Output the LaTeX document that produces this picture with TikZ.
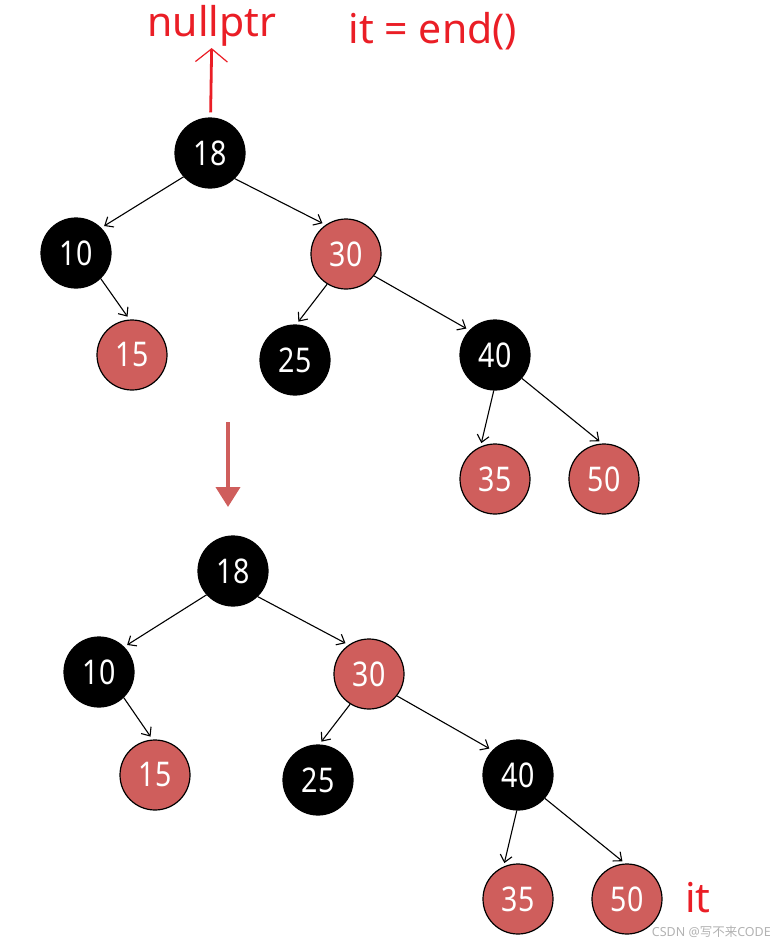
\documentclass[tikz,border=0pt]{standalone}
\usepackage{fontspec}
\setmainfont{Noto Sans}
\newfontfamily\numfont[FakeStretch=0.84]{Noto Sans}
\newfontfamily\cjkfont{Noto Sans CJK SC}
\usetikzlibrary{arrows.meta}
\definecolor{rbred}{RGB}{207,94,92}
\definecolor{txtred}{RGB}{234,30,38}

\begin{document}
\begin{tikzpicture}[
    x=1pt, y=-1pt,
    >={Straight Barb[length=7pt,width=12pt]},
    bnode/.style={circle, draw=black, fill=black, text=white, line width=1.2pt,
                  minimum size=70pt, inner sep=0pt,
                  font=\numfont\fontsize{34}{34}\selectfont},
    rnode/.style={bnode, fill=rbred},
    edge/.style={->, line width=1.1pt, shorten >=3.5pt},
    lab/.style={text=txtred, inner sep=1pt, font=\fontsize{41}{41}\selectfont},
    ptr/.style={->, txtred, line width=2.8pt, shorten <=5pt, shorten >=1pt,
                >={Straight Barb[length=13pt,width=32pt,line width=1.2pt]}},
    stepdown/.style={-{Triangle[length=20pt,width=24pt]}, rbred, line width=4pt},
    wm/.style={text=black!30, inner sep=0pt, font=\fontsize{12.5}{12.5}\selectfont},
  ]
  \useasboundingbox (0,0) rectangle (778,946);

  %% ---- labels --------------------------------------------------------
  \node[lab, anchor=base] (nul) at (212,36) {nullptr};
  \node[lab, anchor=base] (itend) at (433,43) {it = end()};

  %% ---- tree before ++ ------------------------------------------------
  \node[bnode] (a18) at (210,153) {18};
  \node[bnode] (a10) at ( 76,253) {10};
  \node[rnode] (a30) at (346,254) {30};
  \node[rnode] (a15) at (132,355) {15};
  \node[bnode] (a25) at (295,360) {25};
  \node[bnode] (a40) at (495,355) {40};
  \node[rnode] (a35) at (495,479) {35};
  \node[rnode] (a50) at (604,479) {50};

  \draw[edge] (a18.222) -- (a10.45);
  \draw[edge] (a18.314) -- (a30.125);
  \draw[edge] (a10.314) -- (a15.94);
  \draw[edge] (a30.238) -- (a25.88);
  \draw[edge] (a30.322) -- (a40.136);
  \draw[edge] (a40.268) -- (a35.114);
  \draw[edge] (a40.319) -- (a50.93);

  \draw[ptr] (a18) -- (nul);

  %% ---- step arrow ----------------------------------------------------
  \coordinate (s0) at (228,422);
  \coordinate (s1) at (228,507);
  \draw[stepdown] (s0) -- (s1);

  %% ---- tree after ++ -------------------------------------------------
  \node[bnode] (b18) at (233,571) {18};
  \node[bnode] (b10) at ( 99,672) {10};
  \node[rnode] (b30) at (369,674) {30};
  \node[rnode] (b15) at (155,775) {15};
  \node[bnode] (b25) at (318,780) {25};
  \node[bnode] (b40) at (518,775) {40};
  \node[rnode] (b35) at (518,899) {35};
  \node[rnode] (b50) at (627,899) {50};

  \draw[edge] (b18.222) -- (b10.45);
  \draw[edge] (b18.314) -- (b30.125);
  \draw[edge] (b10.314) -- (b15.94);
  \draw[edge] (b30.238) -- (b25.88);
  \draw[edge] (b30.322) -- (b40.136);
  \draw[edge] (b40.268) -- (b35.114);
  \draw[edge] (b40.319) -- (b50.93);

  \node[lab, anchor=base west] (it) at (684,912) {it};

  \node[wm, anchor=east] (mark) at (771,932) {CSDN @{\cjkfont 写不来}CODE};

\end{tikzpicture}
\end{document}
